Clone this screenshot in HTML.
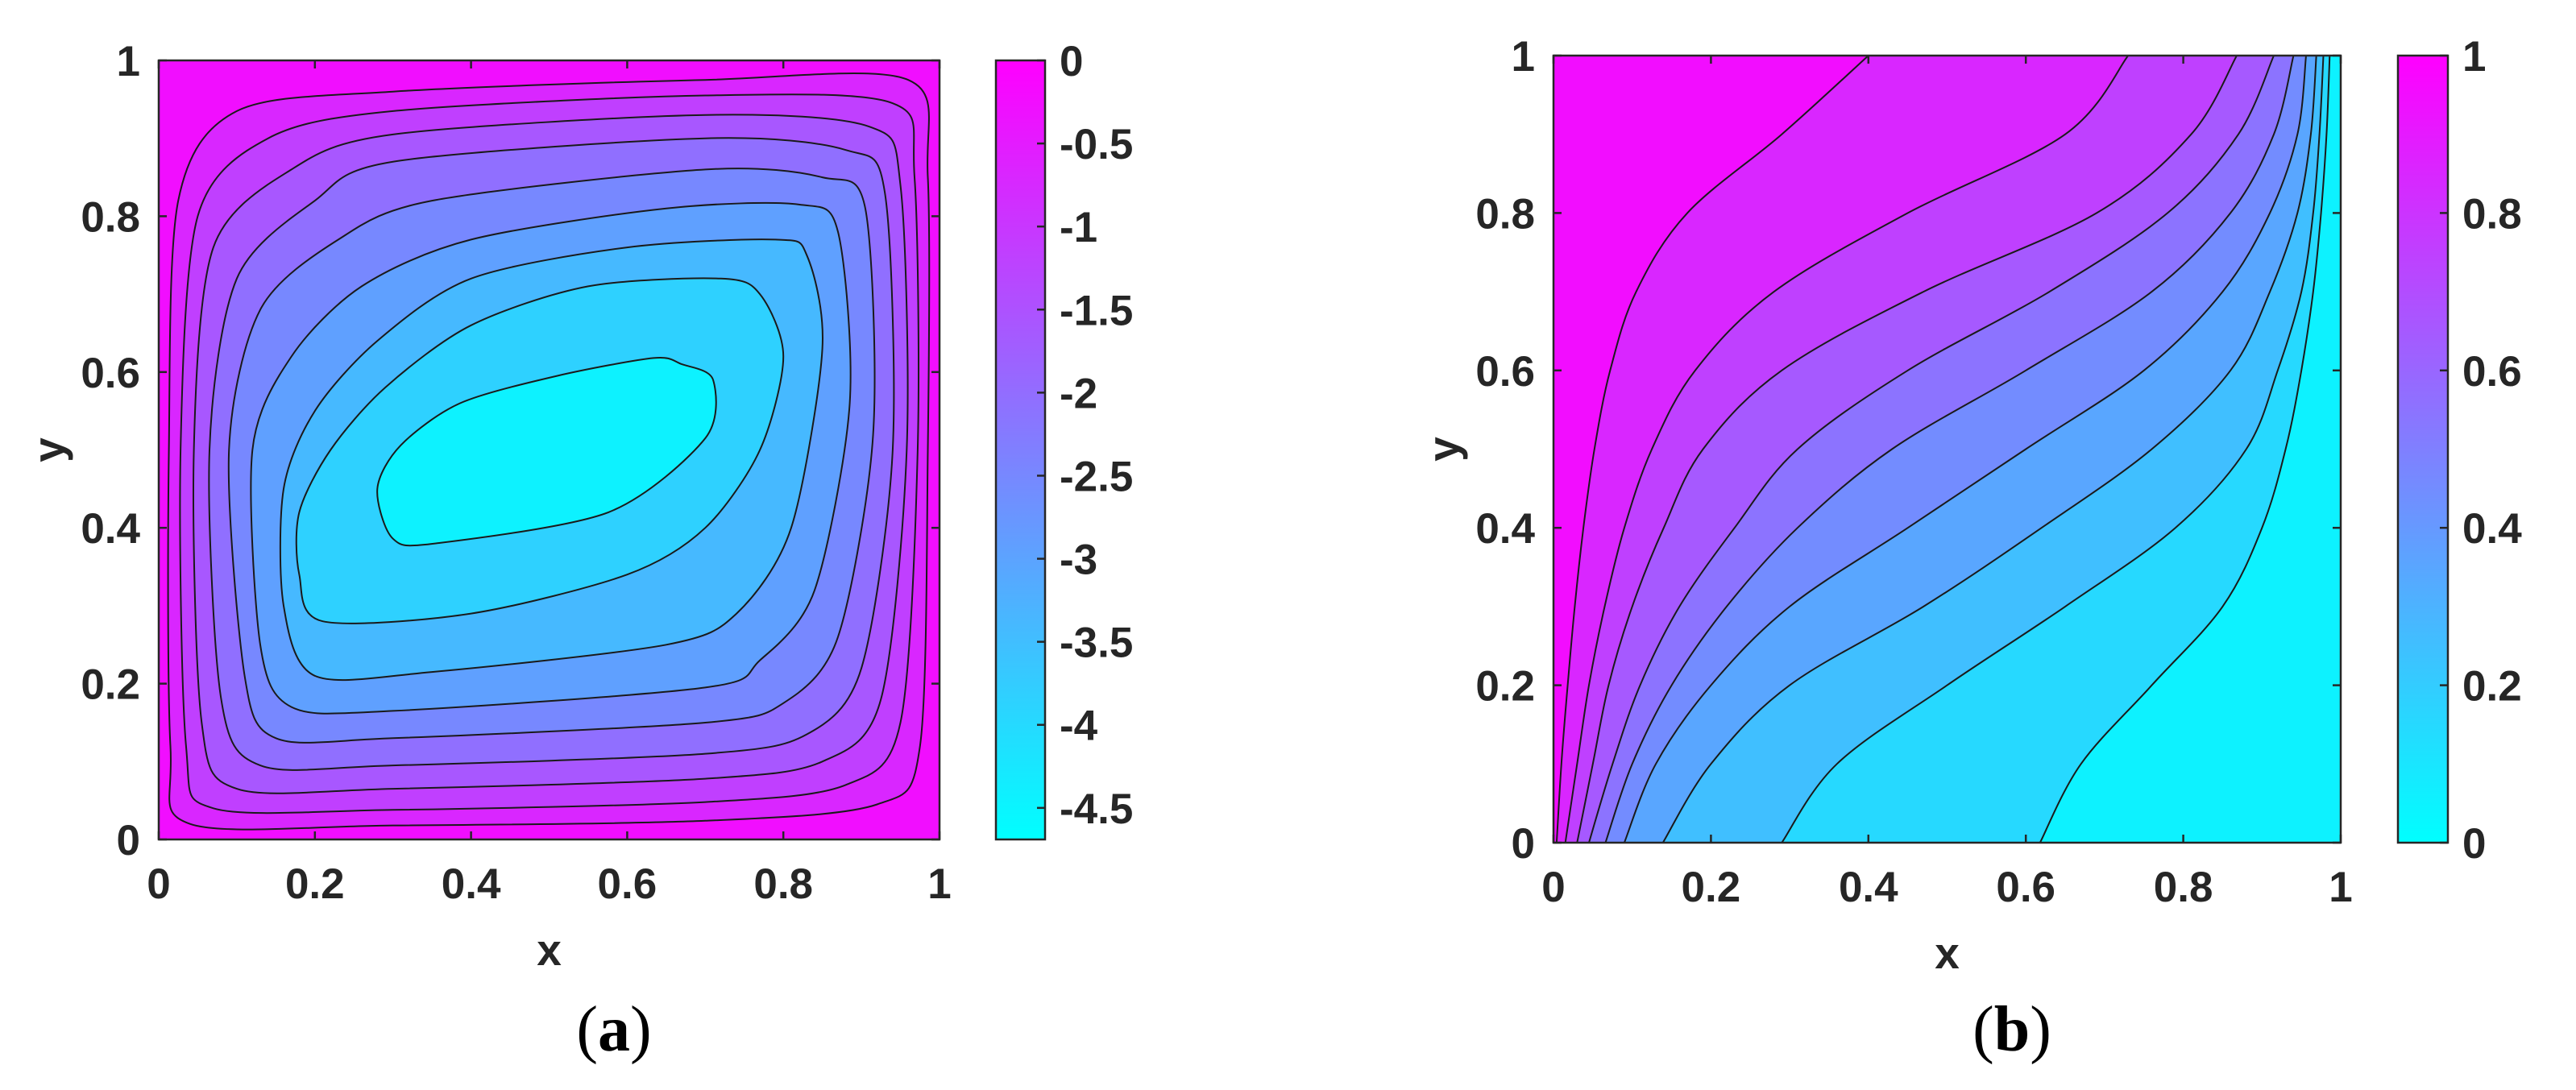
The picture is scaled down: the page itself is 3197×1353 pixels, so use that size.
<!DOCTYPE html>
<html><head><meta charset="utf-8"><style>
html,body{margin:0;padding:0;background:#fff;}
svg{display:block;}
text{font-family:"Liberation Sans",Arial,sans-serif;font-weight:bold;fill:#262626;}
.cap{font-family:"Liberation Serif",serif;font-weight:normal;fill:#000;}
</style></head><body>
<svg id="fig" width="3197" height="1353" viewBox="0 0 3197 1353" xmlns="http://www.w3.org/2000/svg"></svg>
<script>
// ---------- data ----------
const xTicks = [0, 0.2, 0.4, 0.6, 0.8, 1];
const xTickLabels = ["0", "0.2", "0.4", "0.6", "0.8", "1"];
const yTicks = [0, 0.2, 0.4, 0.6, 0.8, 1];
const yTickLabels = ["0", "0.2", "0.4", "0.6", "0.8", "1"];
// panel (a) stream function
const aMin = -4.69, aMax = 0;
const aCbTicks = [0, -0.5, -1, -1.5, -2, -2.5, -3, -3.5, -4, -4.5];
const aCbTickLabels = ["0", "-0.5", "-1", "-1.5", "-2", "-2.5", "-3", "-3.5", "-4", "-4.5"];
const aBandValues = [-0.25, -0.7, -1.15, -1.6, -2.05, -2.5, -2.95, -3.4, -3.85, -4.45];
const aRing1 = [[.04,.02],[.3,.018],[.7,.024],[.92,.045],[.975,.12],[.985,.5],[.985,.85],[.96,.975],[.7,.975],[.3,.96],[.1,.935],[.025,.82],[.013,.5],[.015,.12]];
const aRing2 = [[.07,.04],[.3,.038],[.7,.048],[.88,.07],[.95,.15],[.972,.5],[.968,.85],[.94,.945],[.7,.955],[.3,.935],[.14,.9],[.05,.8],[.028,.5],[.035,.12]];
const aRing3 = [[.1,.065],[.3,.065],[.7,.078],[.85,.1],[.925,.18],[.958,.5],[.95,.84],[.91,.915],[.7,.93],[.3,.905],[.17,.86],[.07,.76],[.045,.5],[.055,.15]];
const aRing4 = [[.13,.095],[.3,.095],[.7,.11],[.83,.135],[.9,.22],[.94,.5],[.93,.83],[.88,.885],[.7,.9],[.3,.87],[.2,.82],[.1,.72],[.065,.5],[.08,.18]];
const aRing5 = [[.15,.13],[.3,.13],[.7,.15],[.8,.175],[.87,.26],[.915,.52],[.905,.81],[.85,.85],[.7,.86],[.35,.82],[.23,.77],[.13,.68],[.09,.5],[.11,.21]];
const aRing6 = [[.17,.17],[.3,.165],[.7,.195],[.77,.23],[.84,.32],[.885,.56],[.87,.78],[.82,.815],[.65,.81],[.4,.77],[.26,.71],[.17,.62],[.12,.5],[.13,.25]];
const aRing7 = [[.2,.21],[.35,.215],[.65,.25],[.74,.29],[.81,.4],[.85,.63],[.83,.75],[.79,.77],[.6,.76],[.4,.72],[.28,.64],[.2,.55],[.16,.45],[.16,.3]];
const aRing8 = [[.21,.28],[.4,.29],[.6,.34],[.7,.4],[.77,.5],[.8,.62],[.77,.7],[.72,.72],[.55,.71],[.4,.66],[.29,.58],[.22,.5],[.18,.42],[.18,.34]];
const aRing9 = [[.28,.45],[.30,.386],[.355,.38],[.576,.42],[.70,.515],[.71,.59],[.67,.61],[.634,.618],[.51,.595],[.386,.56],[.31,.506]];
// panel (b) temperature
const bMin = 0, bMax = 1;
const bCbTicks = [0, 0.2, 0.4, 0.6, 0.8, 1];
const bCbTickLabels = ["0", "0.2", "0.4", "0.6", "0.8", "1"];
const bBandValues = [0.05, 0.15, 0.25, 0.35, 0.45, 0.55, 0.65, 0.75, 0.85, 0.95];
const bLineY = [0, .1, .2, .3, .4, .5, .6, .7, .8, .9, 1];
const bLine09 = [.004,.01,.018,.027,.038,.052,.072,.105,.17,.29,.40];
const bLine08 = [.015,.03,.045,.065,.09,.125,.18,.28,.45,.65,.73];
const bLine07 = [.03,.05,.07,.1,.14,.19,.29,.47,.69,.81,.868];
const bLine06 = [.045,.075,.11,.16,.23,.31,.45,.63,.78,.87,.915];
const bLine05 = [.066,.10,.15,.22,.31,.43,.6,.76,.86,.915,.94];
const bLine04 = [.09,.13,.2,.3,.45,.6,.75,.85,.91,.945,.956];
const bLine03 = [.139,.2,.3,.47,.62,.76,.86,.91,.945,.962,.969];
const bLine02 = [.29,.36,.5,.65,.79,.88,.92,.95,.965,.973,.978];
const bLine01 = [.618,.67,.76,.85,.9,.93,.95,.965,.975,.982,.986];

// ---------- helpers ----------
const NS = "http://www.w3.org/2000/svg";
const svg = document.getElementById('fig');
function mk(tag, attrs, parent) {
  const e = document.createElementNS(NS, tag);
  for (const k in attrs) e.setAttribute(k, attrs[k]);
  (parent || svg).appendChild(e);
  return e;
}
function cool(t) {
  t = Math.max(0, Math.min(1, t));
  return `rgb(${Math.round(255*t)},${Math.round(255*(1-t))},255)`;
}
function smoothPath(pts, closed, k) {
  k = k || 6;
  const n = pts.length;
  let d = `M${pts[0][0].toFixed(1)},${pts[0][1].toFixed(1)}`;
  const last = closed ? n : n - 1;
  for (let i = 0; i < last; i++) {
    const g = j => closed ? pts[(j + n) % n] : pts[Math.max(0, Math.min(n - 1, j))];
    const p0 = g(i - 1), p1 = g(i), p2 = g(i + 1), p3 = g(i + 2);
    const c1 = [p1[0] + (p2[0] - p0[0]) / k, p1[1] + (p2[1] - p0[1]) / k];
    const c2 = [p2[0] - (p3[0] - p1[0]) / k, p2[1] - (p3[1] - p1[1]) / k];
    d += `C${c1[0].toFixed(1)},${c1[1].toFixed(1)} ${c2[0].toFixed(1)},${c2[1].toFixed(1)} ${p2[0].toFixed(1)},${p2[1].toFixed(1)}`;
  }
  return closed ? d + 'Z' : d;
}

function drawAxes(P, name) {
  const sx = v => P.l + v * (P.r - P.l);
  const sy = v => P.b - v * (P.b - P.t);
  const ax = mk('g', {});
  
  
  mk('rect', {x: P.l, y: P.t, width: P.r - P.l, height: P.b - P.t, fill: 'none', stroke: '#262626', 'stroke-width': 2.5}, ax);
  xTicks.forEach((v, i) => {
    mk('line', {x1: sx(v), x2: sx(v), y1: P.b, y2: P.b - 10, stroke: '#262626', 'stroke-width': 2.5}, ax);
    mk('line', {x1: sx(v), x2: sx(v), y1: P.t, y2: P.t + 10, stroke: '#262626', 'stroke-width': 2.5}, ax);
    const t = mk('text', {x: sx(v), y: P.b + 73, 'font-size': 53, 'text-anchor': 'middle'}, ax);
    
    
    t.textContent = xTickLabels[i];
  });
  yTicks.forEach((v, i) => {
    mk('line', {x1: P.l, x2: P.l + 10, y1: sy(v), y2: sy(v), stroke: '#262626', 'stroke-width': 2.5}, ax);
    mk('line', {x1: P.r, x2: P.r - 10, y1: sy(v), y2: sy(v), stroke: '#262626', 'stroke-width': 2.5}, ax);
    const t = mk('text', {x: P.l - 23, y: sy(v) + 19, 'font-size': 53, 'text-anchor': 'end'}, ax);
    
    
    t.textContent = yTickLabels[i];
  });
  const xl = mk('text', {x: (P.l + P.r) / 2, y: P.b + 156, 'font-size': 55, 'text-anchor': 'middle'});
  
  
  xl.textContent = 'x';
  const yc = (P.t + P.b) / 2, yx = P.l - 118;
  const yl = mk('text', {x: yx, y: yc, 'font-size': 55, 'text-anchor': 'middle', transform: `rotate(-90 ${yx} ${yc})`});
  
  
  yl.textContent = 'y';
}

function drawColorbar(C, mn, mx, ticks, labels, name) {
  const g = mk('g', {});
  
  
  const gid = name + '-grad';
  const defs = mk('defs', {}, g);
  const lg = mk('linearGradient', {id: gid, x1: 0, y1: 1, x2: 0, y2: 0}, defs);
  mk('stop', {offset: '0', 'stop-color': cool(0)}, lg);
  mk('stop', {offset: '1', 'stop-color': cool(1)}, lg);
  mk('rect', {x: C.l, y: C.t, width: C.r - C.l, height: C.b - C.t, fill: `url(#${gid})`, stroke: '#262626', 'stroke-width': 2.5}, g);
  const sy = v => C.b - (v - mn) / (mx - mn) * (C.b - C.t);
  ticks.forEach((v, i) => {
    mk('line', {x1: C.r - 10, x2: C.r, y1: sy(v), y2: sy(v), stroke: '#262626', 'stroke-width': 2.5}, g);
    const t = mk('text', {x: C.r + 18, y: sy(v) + 19, 'font-size': 53}, g);
    
    
    t.textContent = labels[i];
  });
}

// ---------- panel (a) ----------
const PA = {l: 197, r: 1166, t: 75, b: 1042};
(function () {
  const sx = v => PA.l + v * (PA.r - PA.l);
  const sy = v => PA.b - v * (PA.b - PA.t);
  const g = mk('g', {});
  
  
  const defs = mk('defs', {}, g);
  const cp = mk('clipPath', {id: 'clipa'}, defs);
  mk('rect', {x: PA.l, y: PA.t, width: PA.r - PA.l, height: PA.b - PA.t}, cp);
  const inner = mk('g', {'clip-path': 'url(#clipa)'}, g);
  mk('rect', {x: PA.l, y: PA.t, width: PA.r - PA.l, height: PA.b - PA.t, fill: cool((aBandValues[0] - aMin) / (aMax - aMin))}, inner);
  const rings = [aRing1, aRing2, aRing3, aRing4, aRing5, aRing6, aRing7, aRing8, aRing9];
  rings.forEach((ring, i) => {
    const pts = ring.map(p => [sx(p[0]), sy(p[1])]);
    const p = mk('path', {d: smoothPath(pts, true, 7), fill: cool((aBandValues[i + 1] - aMin) / (aMax - aMin)), stroke: '#1a1a1a', 'stroke-width': 2}, inner);
    
    
  });
  drawAxes(PA, 'panel-a');
  drawColorbar({l: 1236, r: 1297, t: 75, b: 1042}, aMin, aMax, aCbTicks, aCbTickLabels, 'panel-a');
})();

// ---------- panel (b) ----------
const PB = {l: 1928, r: 2905, t: 69, b: 1046};
(function () {
  const sx = v => PB.l + v * (PB.r - PB.l);
  const sy = v => PB.b - v * (PB.b - PB.t);
  const g = mk('g', {});
  
  
  const defs = mk('defs', {}, g);
  const cp = mk('clipPath', {id: 'clipb'}, defs);
  mk('rect', {x: PB.l, y: PB.t, width: PB.r - PB.l, height: PB.b - PB.t}, cp);
  const inner = mk('g', {'clip-path': 'url(#clipb)'}, g);
  mk('rect', {x: PB.l, y: PB.t, width: PB.r - PB.l, height: PB.b - PB.t, fill: cool((bBandValues[0] - bMin) / (bMax - bMin))}, inner);
  const lines = [bLine01, bLine02, bLine03, bLine04, bLine05, bLine06, bLine07, bLine08, bLine09];
  lines.forEach((ln, i) => {
    const pts = ln.map((x, j) => [sx(x), sy(bLineY[j])]);
    const d = smoothPath(pts, false);
    const f = mk('path', {d: d + `L${PB.l - 5},${PB.t}L${PB.l - 5},${PB.b}Z`, fill: cool((bBandValues[i + 1] - bMin) / (bMax - bMin))}, inner);
    
    
  });
  lines.forEach((ln, i) => {
    const pts = ln.map((x, j) => [sx(x), sy(bLineY[j])]);
    const p = mk('path', {d: smoothPath(pts, false), fill: 'none', stroke: '#1a1a1a', 'stroke-width': 2}, inner);
    
    
  });
  drawAxes(PB, 'panel-b');
  drawColorbar({l: 2976, r: 3038, t: 69, b: 1046}, bMin, bMax, bCbTicks, bCbTickLabels, 'panel-b');
})();

// ---------- captions ----------
[['(a)', 762, 'caption-a'], ['(b)', 2497, 'caption-b']].forEach(c => {
  const t = mk('text', {x: c[1], y: 1304, 'font-size': 80, 'text-anchor': 'middle', class: 'cap'});
  
  
  const s1 = mk('tspan', {}, t); s1.textContent = '(';
  const s2 = mk('tspan', {'font-weight': 'bold'}, t); s2.textContent = c[0][1];
  const s3 = mk('tspan', {}, t); s3.textContent = ')';
});
</script>
</body></html>
